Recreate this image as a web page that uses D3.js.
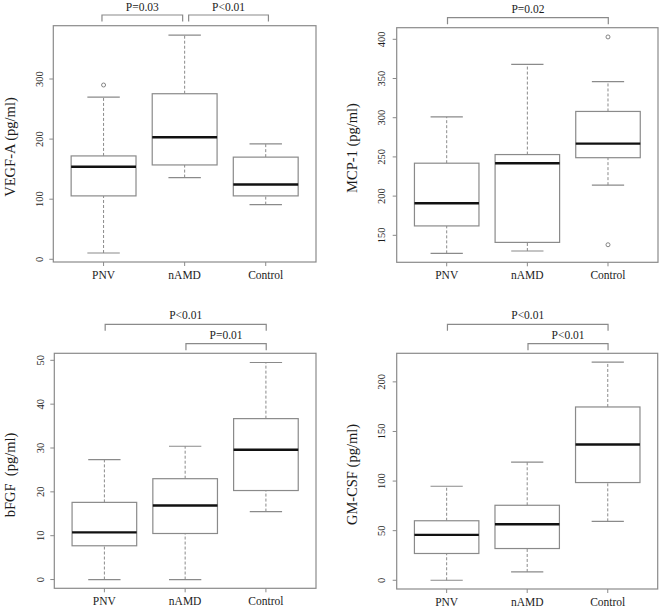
<!DOCTYPE html>
<html><head><meta charset="utf-8">
<script src="https://cdn.jsdelivr.net/npm/d3@7"></script>
<style>
html,body{margin:0;padding:0;background:#fff;}
svg{display:block;}
svg text{font-family:"Liberation Serif","DejaVu Serif","Times New Roman",serif;}
</style></head>
<body><svg id="c" width="660" height="607"></svg>
<script>
// ---- data ----
const groups = ["PNV", "nAMD", "Control"];
// stats per group: [lower whisker, Q1, median, Q3, upper whisker]
const vegfStats  = [[10.5,105.5,154,172,270],[136,157,203,275.5,373],[91,105.5,124.5,170,192]];
const vegfOutliers = [[290],[],[]];
const mcpStats   = [[127,162,191,242,301],[130,141,242,253,368],[214,249,267,308,346]];
const mcpOutliers = [[],[],[403,138]];
const bfgfStats  = [[0,7.7,10.75,17.6,27.35],[0,10.5,16.9,23,30.4],[15.5,20.3,29.6,36.7,49.5]];
const bfgfOutliers = [[],[],[]];
const gmcsfStats = [[0,27,45.8,60,94.8],[8.4,32,56.4,75.6,119],[59.4,98.5,136.9,174.7,219.9]];
const gmcsfOutliers = [[],[],[]];
const vegfTicks  = [0,100,200,300];
const mcpTicks   = [150,200,250,300,350,400];
const bfgfTicks  = [0,10,20,30,40,50];
const gmcsfTicks = [0,50,100,150,200];
// comparisons: [group a, group b, label, level]
const vegfComparisons  = [[0,1,"P=0.03",0],[1,2,"P<0.01",0]];
const mcpComparisons   = [[0,2,"P=0.02",0]];
const bfgfComparisons  = [[0,2,"P<0.01",0],[1,2,"P=0.01",1]];
const gmcsfComparisons = [[0,2,"P<0.01",0],[1,2,"P<0.01",1]];
const yTitles = ["VEGF-A (pg/ml)","MCP-1 (pg/ml)","bFGF  (pg/ml)","GM-CSF (pg/ml)"];

// ---- layout ----
const panels = [
  {stats:vegfStats, out:vegfOutliers, ticks:vegfTicks, cmp:vegfComparisons, title:yTitles[0],
   x0:53.3, x1:316, y0:25.7, y1:262, dom:[-4.5,388.7], tickX:39.5, titleX:10, titleY:147,
   brY:[15], txtY:[7], splitGap:true},
  {stats:mcpStats, out:mcpOutliers, ticks:mcpTicks, cmp:mcpComparisons, title:yTitles[1],
   x0:396.7, x1:658, y0:27.7, y1:262.3, dom:[115.6,414.8], tickX:381.7, titleX:352, titleY:148,
   brY:[17.7], txtY:[9]},
  {stats:bfgfStats, out:bfgfOutliers, ticks:bfgfTicks, cmp:bfgfComparisons, title:yTitles[2],
   x0:54.3, x1:316, y0:353.3, y1:588.3, dom:[-2.0,51.6], tickX:40, titleX:10, titleY:475,
   brY:[324.3,343.7], txtY:[315,335]},
  {stats:gmcsfStats, out:gmcsfOutliers, ticks:gmcsfTicks, cmp:gmcsfComparisons, title:yTitles[3],
   x0:396.7, x1:657.7, y0:353.3, y1:589, dom:[-8.8,228.8], tickX:381.7, titleX:352, titleY:474.5,
   brY:[324.3,343.7], txtY:[315,335]}
];

const FONT = "Liberation Serif, DejaVu Serif, serif";
const svg = d3.select("#c");
const lineCol = "#8a8a8a", textCol = "#1c1c1c";

panels.forEach(p => {
  const g = svg.append("g");
  const x = d3.scaleLinear().domain([0.38,3.62]).range([p.x0,p.x1]);
  const y = d3.scaleLinear().domain(p.dom).range([p.y1,p.y0]);
  const sp = x(2)-x(1);
  const bw = sp*0.8, cw = bw*0.5;

  // frame
  g.append("rect").attr("x",p.x0).attr("y",p.y0).attr("width",p.x1-p.x0).attr("height",p.y1-p.y0)
    .attr("fill","none").attr("stroke",lineCol).attr("stroke-width",1.2);

  // y axis ticks
  const ya = g.append("g");
  p.ticks.forEach(t => {
    ya.append("line").attr("x1",p.x0-4).attr("x2",p.x0).attr("y1",y(t)).attr("y2",y(t))
      .attr("stroke",lineCol).attr("stroke-width",1);
    ya.append("text").attr("transform",`translate(${p.tickX},${y(t)}) rotate(-90)`)
      .attr("text-anchor","middle").attr("dominant-baseline","central")
      .attr("font-family",FONT).attr("font-size",10.5).attr("fill",textCol).text(t);
  });
  // x ticks & labels
  groups.forEach((gr,i) => {
    g.append("line").attr("x1",x(i+1)).attr("x2",x(i+1)).attr("y1",p.y1).attr("y2",p.y1+4)
      .attr("stroke",lineCol).attr("stroke-width",1);
    g.append("text").attr("x",x(i+1)).attr("y",p.y1+13).attr("text-anchor","middle")
      .attr("dominant-baseline","central").attr("font-family",FONT).attr("font-size",11.5)
      .attr("fill",textCol).text(gr);
  });
  // y title
  g.append("text").attr("transform",`translate(${p.titleX},${p.titleY}) rotate(-90)`)
    .attr("text-anchor","middle").attr("dominant-baseline","central")
    .attr("font-family",FONT).attr("font-size",14.5).attr("fill",textCol)
    .style("white-space","pre").text(p.title);

  // boxes
  p.stats.forEach((s,i) => {
    const cx = x(i+1);
    const [lo,q1,md,q3,hi] = s;
    [[lo,q1],[q3,hi]].forEach(([a,b]) => {
      g.append("line").attr("x1",cx).attr("x2",cx).attr("y1",y(a)).attr("y2",y(b))
        .attr("stroke",lineCol).attr("stroke-width",1).attr("stroke-dasharray","3,2");
    });
    [lo,hi].forEach(v => {
      g.append("line").attr("x1",cx-cw/2).attr("x2",cx+cw/2).attr("y1",y(v)).attr("y2",y(v))
        .attr("stroke",lineCol).attr("stroke-width",1.2);
    });
    g.append("rect").attr("x",cx-bw/2).attr("y",y(q3)).attr("width",bw).attr("height",y(q1)-y(q3))
      .attr("fill","#fff").attr("stroke",lineCol).attr("stroke-width",1.2);
    g.append("line").attr("x1",cx-bw/2).attr("x2",cx+bw/2).attr("y1",y(md)).attr("y2",y(md))
      .attr("stroke","#111").attr("stroke-width",2.4);
    p.out[i].forEach(v => {
      g.append("circle").attr("cx",cx).attr("cy",y(v)).attr("r",2)
        .attr("fill","none").attr("stroke","#777").attr("stroke-width",0.9);
    });
  });

  // comparison brackets
  p.cmp.forEach(([a,b,label,lvl]) => {
    let xa = x(a+1), xb = x(b+1);
    if (p.splitGap) { if (a===0) { xa -= 1.6; xb -= 2; } else { xa += 4; xb += 2.7; } }
    else { xa += 0.8; xb += 0.3; }
    const top = p.brY[lvl], leg = 6.5;
    g.append("path").attr("d",`M${xa},${top+leg}V${top}H${xb}V${top+leg}`)
      .attr("fill","none").attr("stroke",lineCol).attr("stroke-width",1.2);
    g.append("text").attr("x",(xa+xb)/2).attr("y",p.txtY[lvl]).attr("text-anchor","middle")
      .attr("dominant-baseline","central").attr("font-family",FONT).attr("font-size",11.5)
      .attr("fill",textCol).text(label);
  });
});
</script>
</body></html>
